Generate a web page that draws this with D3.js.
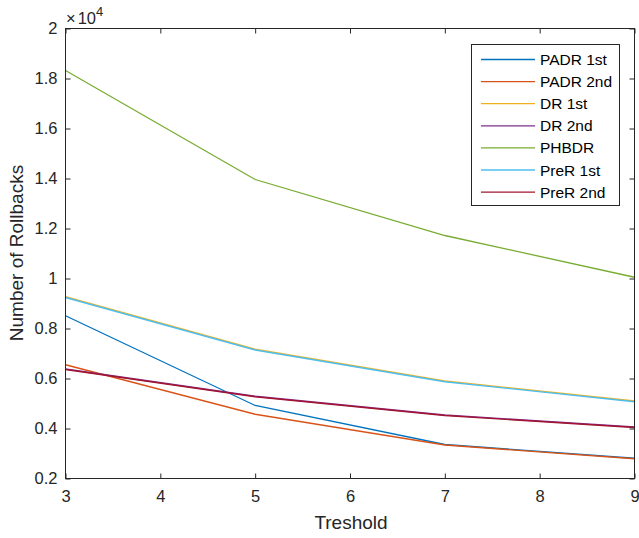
<!DOCTYPE html>
<html>
<head>
<meta charset="utf-8">
<script src="https://cdn.jsdelivr.net/npm/d3@7"></script>
<style>
  body { margin: 0; background: #fff; }
  svg { display: block; font-family: "Liberation Sans", Arial, Helvetica, sans-serif; }
</style>
</head>
<body>
<svg id="chart" width="639" height="538"></svg>
<script>
// --- datos ---
const thresholds = [3, 5, 7, 9];
const seriesNames = ['PADR 1st', 'PADR 2nd', 'DR 1st', 'DR 2nd', 'PHBDR', 'PreR 1st', 'PreR 2nd'];
const padr1 = [0.851, 0.492, 0.336, 0.281];
const padr2 = [0.655, 0.457, 0.334, 0.279];
const dr1 = [0.927, 0.717, 0.590, 0.510];
const dr2 = [0.638, 0.529, 0.454, 0.406];
const phbdr = [1.832, 1.396, 1.172, 1.005];
const prer1 = [0.924, 0.714, 0.587, 0.507];
const prer2 = [0.636, 0.527, 0.452, 0.404];
const yTicks = [0.2, 0.4, 0.6, 0.8, 1, 1.2, 1.4, 1.6, 1.8, 2];
const xTicks = [3, 4, 5, 6, 7, 8, 9];

const seriesValues = [padr1, padr2, dr1, dr2, phbdr, prer1, prer2];
const colors = ['#0072BD', '#D95319', '#EDB120', '#7E2F8E', '#77AC30', '#4DBEEE', '#A2142F'];

const svg = d3.select('#chart');
const margin = { left: 65.5, right: 634.5, top: 28.5, bottom: 478.5 };
const ink = '#262626';

const x = d3.scaleLinear().domain([3, 9]).range([margin.left, margin.right]);
const y = d3.scaleLinear().domain([0.2, 2]).range([margin.bottom, margin.top]);

// lineas
const line = d3.line().x((d, i) => x(thresholds[i])).y(d => y(d));
const plot = svg.append('g');
seriesValues.forEach((vals, k) => {
  plot.append('path')
    .attr('d', line(vals))
    .attr('fill', 'none')
    .attr('stroke', colors[k])
    .attr('stroke-width', 1.3);
});

// ejes (caja con ticks hacia dentro)
const axisG = svg.append('g');
axisG.append('rect')
  .attr('x', margin.left).attr('y', margin.top)
  .attr('width', margin.right - margin.left).attr('height', margin.bottom - margin.top)
  .attr('fill', 'none').attr('stroke', ink).attr('stroke-width', 1);

const bottomAxis = d3.axisBottom(x).tickValues(xTicks).tickSizeInner(-5).tickSizeOuter(0).tickPadding(12).tickFormat(d3.format('d'));
const topAxis = d3.axisTop(x).tickValues(xTicks).tickSizeInner(-5).tickSizeOuter(0).tickFormat('');
const leftAxis = d3.axisLeft(y).tickValues(yTicks).tickSizeInner(-5).tickSizeOuter(0).tickPadding(8).tickFormat(d => String(+d.toFixed(1)));
const rightAxis = d3.axisRight(y).tickValues(yTicks).tickSizeInner(-5).tickSizeOuter(0).tickFormat('');

[
  axisG.append('g').attr('transform', `translate(0,${margin.bottom})`).call(bottomAxis),
  axisG.append('g').attr('transform', `translate(0,${margin.top})`).call(topAxis),
  axisG.append('g').attr('transform', `translate(${margin.left},0)`).call(leftAxis),
  axisG.append('g').attr('transform', `translate(${margin.right},0)`).call(rightAxis)
].forEach(g => {
  g.attr('font-size', null).attr('font-family', null);
  g.select('.domain').remove();
  g.selectAll('line').attr('stroke', ink);
  g.selectAll('text').attr('fill', ink).style('font-size', '16.5px');
});

// exponente
const expo = svg.append('text').attr('x', 66).attr('y', 24).attr('fill', ink).style('font-size', '16.5px');
expo.append('tspan').text('\u00d7');
expo.append('tspan').attr('dx', 2).text('10');
expo.append('tspan').attr('dy', -8).style('font-size', '13px').text('4');

// etiquetas
svg.append('text').attr('x', 351).attr('y', 529).attr('text-anchor', 'middle')
  .attr('fill', ink).style('font-size', '19px').text('Treshold');
svg.append('text').attr('transform', 'translate(23,253) rotate(-90)').attr('text-anchor', 'middle')
  .attr('fill', ink).style('font-size', '19px').text('Number of Rollbacks');

// leyenda
const legend = svg.append('g');
legend.append('rect').attr('x', 471.5).attr('y', 44.5).attr('width', 148).attr('height', 161)
  .attr('fill', '#fff').attr('stroke', ink).attr('stroke-width', 1);
seriesNames.forEach((name, k) => {
  const ly = 59.5 + k * 22.1;
  legend.append('line').attr('x1', 481).attr('x2', 535).attr('y1', ly).attr('y2', ly)
    .attr('stroke', colors[k]).attr('stroke-width', 1.3);
  legend.append('text').attr('x', 540).attr('y', ly + 5.5).attr('fill', '#000')
    .style('font-size', '15.5px').text(name);
});
</script>
</body>
</html>
